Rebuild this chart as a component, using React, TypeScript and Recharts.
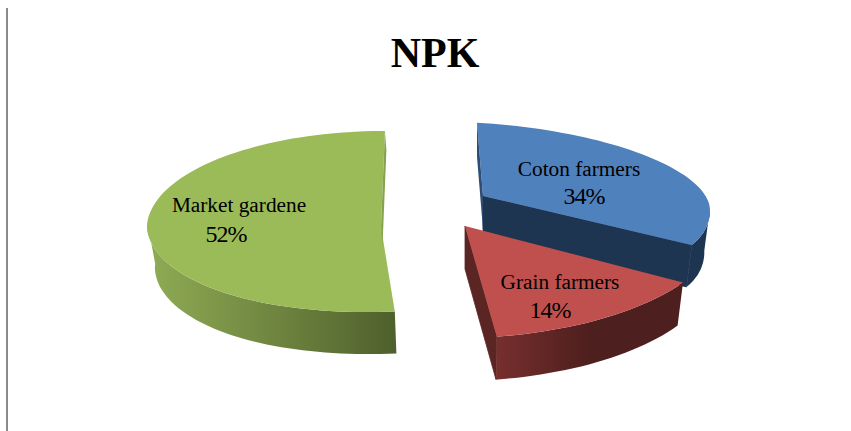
import { PieChart, Pie } from 'recharts';

const W = 851;
const H = 431;

const CATEGORIES = ['Coton farmers', 'Grain farmers', 'Market gardene'];
const SHARES = [34, 14, 52];
const TOP_COLORS = ['#4f81bd', '#c0504d', '#9bbb59'];
const WALL_FILLS = ['url(#wallBlue)', 'url(#wallRed)', 'url(#wallGreen)'];
const UNDER_CUT_COLORS = ['#1e3551', '#5a2523', 'none'];
const OVER_CUT_COLORS = ['#2c4d75', 'none', '#86a24e'];

// hand fitted projection of every slice: apex, u axis, v axis (back / front), extrusion
const SLICE_VIEW = [
  { ax: 483, ay: 196, ux: 227, uy: 14, vxB: 2, vyB: 73, vxF: 55, vyF: 71, dx: 0, dy: 42, overCut: 'start', cutDx: 0, cutDy: 34 },
  { ax: 465, ay: 226, ux: 257, uy: -2, vxB: 0, vyB: 100, vxF: -5, vyF: 112, dx: 0, dy: 43, overCut: '', cutDx: 0, cutDy: 0 },
  { ax: 381, ay: 227, ux: 234, uy: 2, vxB: -8, vyB: 96, vxF: -20, vyF: 85, dx: 2, dy: 42, overCut: 'end', cutDx: 1.5, cutDy: 19 },
];
const WALL_TAPER = 0.025;

const LABEL_SPOTS = [
  { x: 579, y: 176, px: 584, py: 204 },
  { x: 560, y: 289, px: 550, py: 318 },
  { x: 239, y: 212, px: 226, py: 242 },
];

const chartData = CATEGORIES.map((name, i) => ({ name, value: SHARES[i] }));

const SERIF = '"Liberation Serif", "Times New Roman", serif';

function project(view: any, theta: number) {
  const rad = (theta * Math.PI) / 180;
  const u = Math.sin(rad);
  const v = -Math.cos(rad);
  const skew = v > 0 ? view.vxF * v * v : view.vxB * v;
  const vy = v > 0 ? view.vyF : view.vyB;
  return [view.ax + u * view.ux + skew, view.ay + u * view.uy + v * vy];
}

function toPath(points: number[][]) {
  return 'M' + points.map((p) => p[0].toFixed(1) + ' ' + p[1].toFixed(1)).join('L') + 'Z';
}

// the back of the rim is hidden behind the top face
const isFront = (theta: number) => Math.cos((theta * Math.PI) / 180) < 0.05;

// one slice, the angles come from the Pie
function Slice3D(props: any) {
  const i = props.index;
  const view = SLICE_VIEW[i];
  const from = 90 - props.startAngle;
  const to = 90 - props.endAngle;
  const arc: number[][] = [];
  const frontArc: number[][] = [];
  for (let a = from; a < to; a += 2) {
    const p = project(view, a);
    arc.push(p);
    if (isFront(a)) frontArc.push(p);
  }
  arc.push(project(view, to));
  if (isFront(to)) frontArc.push(project(view, to));

  const shift = (p: number[]) => [p[0] + view.dx - WALL_TAPER * (p[0] - view.ax), p[1] + view.dy];
  const nudge = (p: number[]) => [p[0] + view.cutDx, p[1] + view.cutDy];
  const apex = [view.ax, view.ay];
  const first = arc[0];
  const last = arc[arc.length - 1];
  const wall = [...frontArc, ...frontArc.map(shift).reverse()];
  const underCut = [last, apex, shift(apex), shift(last)];
  const edge = view.overCut === 'start' ? first : last;
  const overCut = [edge, apex, nudge(apex), nudge(edge)];

  return (
    <g>
      <path d={toPath(underCut)} fill={UNDER_CUT_COLORS[i]} stroke={UNDER_CUT_COLORS[i]} strokeWidth={0.8} />
      <path d={toPath(wall)} fill={WALL_FILLS[i]} />
      <path d={toPath([apex, ...arc])} fill={TOP_COLORS[i]} />
      {view.overCut && <path d={toPath(overCut)} fill={OVER_CUT_COLORS[i]} />}
    </g>
  );
}

function SliceLabel(props: any) {
  const spot = LABEL_SPOTS[props.index];
  return (
    <g fontFamily={SERIF} fill="#000">
      <text x={spot.x} y={spot.y} textAnchor="middle" fontSize={21.3}>
        {props.name}
      </text>
      <text x={spot.px} y={spot.py} textAnchor="middle" fontSize={24} letterSpacing={-1}>
        {Math.round(props.percent * 100)}%
      </text>
    </g>
  );
}

export default function App() {
  return (
    <div style={{ position: 'absolute', left: 0, top: 0, width: W, height: H, background: '#fff', overflow: 'hidden' }}>
      <div style={{ position: 'absolute', left: 6, top: 8, width: 2, height: H - 8, background: '#8a8a8a' }} />
      <PieChart width={W} height={H} margin={{ top: 0, right: 0, bottom: 0, left: 0 }}>
        <defs>
          <linearGradient id="wallBlue" gradientUnits="userSpaceOnUse" x1="480" y1="0" x2="710" y2="0">
            <stop offset="0%" stopColor="#1e3551" />
            <stop offset="100%" stopColor="#1e3551" />
          </linearGradient>
          <linearGradient id="wallRed" gradientUnits="userSpaceOnUse" x1="495" y1="0" x2="590" y2="0">
            <stop offset="0%" stopColor="#772f2d" />
            <stop offset="100%" stopColor="#4d1f1e" />
          </linearGradient>
          <linearGradient id="wallGreen" gradientUnits="userSpaceOnUse" x1="150" y1="0" x2="395" y2="0">
            <stop offset="0%" stopColor="#8fab54" />
            <stop offset="100%" stopColor="#4f602c" />
          </linearGradient>
        </defs>
        <text x={435} y={67} textAnchor="middle" fontFamily={SERIF} fontWeight="bold" fontSize={42} fill="#000">
          NPK
        </text>
        <Pie
          data={chartData}
          dataKey="value"
          nameKey="name"
          cx={435}
          cy={230}
          outerRadius={230}
          startAngle={91}
          endAngle={-269}
          stroke="none"
          shape={Slice3D}
          label={SliceLabel}
          labelLine={false}
          isAnimationActive={false}
        />
      </PieChart>
    </div>
  );
}
